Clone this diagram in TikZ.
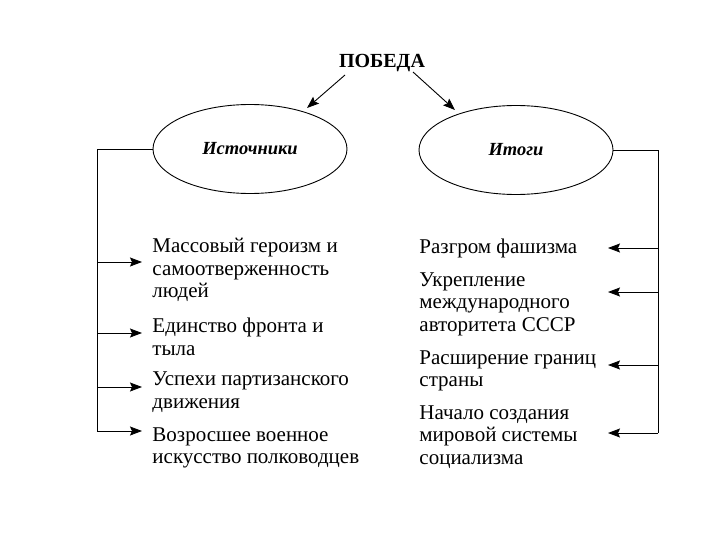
\documentclass[tikz,border=0pt]{standalone}
\usepackage{fontspec}
\setmainfont{Liberation Serif}
\usetikzlibrary{shapes.geometric,arrows.meta}
\begin{document}
\begin{tikzpicture}[x=1pt,y=-1pt,
  line width=0.9pt,
  oval/.style={draw,ellipse,minimum width=194pt,minimum height=89pt,inner sep=0pt,
    font=\fontsize{18.5}{22}\selectfont\bfseries\itshape},
  item/.style={anchor=west,align=left,inner sep=0pt,
    font=\fontsize{21}{22.5}\selectfont},
  arr/.style={-{Stealth[length=12pt,width=9pt,inset=2pt]}}]
\useasboundingbox (0,0) rectangle (720,540);
\node[font=\fontsize{20}{22}\selectfont\bfseries] (pob) at (382,63) {ПОБЕДА};
\node[oval] (src) at (250,149) {Источники};
\node[oval] (res) at (516,150) {Итоги};
\coordinate (pl) at (345,75);
\coordinate (pr) at (413,72);
\coordinate (tl) at (307,108);
\coordinate (tr) at (455,110);
\draw[arr] (pl) -- (tl);
\draw[arr] (pr) -- (tr);
% left items
\node[item] (l1) at (152,270) {Массовый героизм и\\самоотверженность\\людей};
\node[item] (l2) at (152,337) {Единство фронта и\\тыла};
\node[item] (l3) at (152,392) {Успехи партизанского\\движения};
\node[item] (l4) at (152,448) {Возросшее военное\\искусство полководцев};
% right items
\node[item] (r1) at (419,248) {Разгром фашизма};
\node[item] (r2) at (419,304) {Укрепление\\международного\\авторитета СССР};
\node[item] (r3) at (419,371) {Расширение границ\\страны};
\node[item] (r4) at (419,437) {Начало создания\\мировой системы\\социализма};
% left bracket
\coordinate (lc) at (97,149);
\coordinate (lb) at (97,431);
\draw (src.west) -- (lc) -- (lb);
\draw[arr] (97,262) -- (142,262);
\draw[arr] (97,333) -- (142,333);
\draw[arr] (97,387) -- (142,387);
\draw[arr] (lb) -- (142,431);
% right bracket
\coordinate (rc) at (658,150);
\coordinate (rb) at (658,433);
\draw (res.east) -- (rc) -- (rb);
\draw[arr] (658,248) -- (608,248);
\draw[arr] (658,292) -- (608,292);
\draw[arr] (658,365) -- (608,365);
\draw[arr] (rb) -- (608,433);
\end{tikzpicture}
\end{document}
